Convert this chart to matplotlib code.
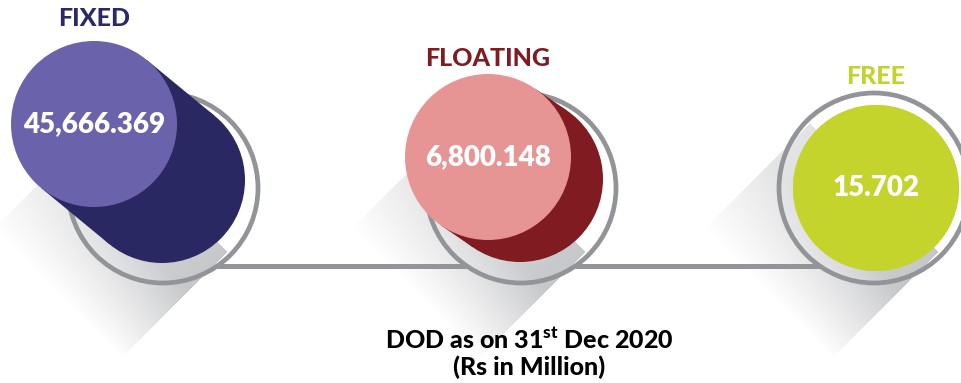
import numpy as np
import matplotlib.pyplot as plt
from matplotlib.patches import Circle, Polygon

plt.rcParams['font.family'] = ['Lato', 'DejaVu Sans']
plt.rcParams['mathtext.fontset'] = 'custom'
plt.rcParams['mathtext.rm'] = 'Lato'
plt.rcParams['mathtext.bf'] = 'Lato:black'

# debt outstanding by interest type
categories = ["FIXED", "FLOATING", "FREE"]
values = [45666.369, 6800.148, 15.702]
title_colors = ["#2b2966", "#7e1c22", "#c3d32d"]
light_colors = ["#6a63ac", "#e79495", "#c5d42c"]
dark_colors = ["#2a2863", "#801c21", "#c5d42c"]
caption = "DOD as on 31$^{\\mathbf{st}}$ Dec 2020\n(Rs in Million)"

# layout in pixels
W, H = 962, 383
ring_x = [163, 521, 874]
ring_y = 188
ring_r = 95
disc_r = 83
light_shift = [(-69, -64), (-33, -31), (2, 0)]
dark_shift = [(-1, -8), (-1, -9), (2, 0)]
label_y = [18, 58, 77]
line_y = 266
gray = "#939498"

fig = plt.figure(figsize=(W / 100, H / 100), dpi=100)
ax = fig.add_axes([0, 0, 1, 1])
ax.set_xlim(0, W)
ax.set_ylim(H, 0)
ax.axis('off')

# long diagonal shadow behind each ring
yy, xx = np.mgrid[0:H, 0:W] + 0.5
shade = np.zeros((H, W))
for cx in ring_x:
    px, py = xx - cx, yy - ring_y
    t = (py - px) / np.sqrt(2)      # distance toward lower-left
    s = (px + py) / np.sqrt(2)      # across the band
    band = (np.abs(s) <= ring_r - 4) & (t >= 0)
    fade = np.clip(1 - (t - 55) / 95, 0, 1)
    tilt = 0.45 + 0.55 * (s / ring_r + 1) / 2
    shade = np.maximum(shade, np.where(band, fade * tilt, 0))
rgba = np.zeros((H, W, 4))
rgba[..., :3] = [0.55, 0.56, 0.58]
rgba[..., 3] = 0.5 * shade
ax.imshow(rgba, extent=(0, W, H, 0), zorder=2, interpolation='bilinear', aspect='auto')

# connector between rings
dx = np.sqrt(ring_r ** 2 - (line_y - ring_y) ** 2)
for a, b in zip(ring_x[:-1], ring_x[1:]):
    ax.plot([a + dx, b - dx], [line_y, line_y], color=gray, lw=3.6,
            solid_capstyle='butt', zorder=3)

for i, (cat, val) in enumerate(zip(categories, values)):
    cx = ring_x[i]
    ax.add_patch(Circle((cx, ring_y), ring_r, fill=False, ec=gray, lw=3.4, zorder=4))
    lx, ly = cx + light_shift[i][0], ring_y + light_shift[i][1]
    dcx, dcy = cx + dark_shift[i][0], ring_y + dark_shift[i][1]
    # dark capsule from the light disc to its resting place
    ax.add_patch(Circle((dcx, dcy), disc_r, fc=dark_colors[i], ec='none', zorder=5))
    v = np.array([dcx - lx, dcy - ly])
    if np.hypot(*v) > 0:
        n = np.array([-v[1], v[0]]) / np.hypot(*v) * disc_r
        pts = [(lx + n[0], ly + n[1]), (dcx + n[0], dcy + n[1]),
               (dcx - n[0], dcy - n[1]), (lx - n[0], ly - n[1])]
        ax.add_patch(Polygon(pts, closed=True, fc=dark_colors[i], ec='none', zorder=5))
    ax.add_patch(Circle((lx, ly), disc_r, fc=light_colors[i], ec='none', zorder=6))
    ax.text(lx, ly, f"{val:,.3f}", color='white', fontsize=20, fontweight='heavy',
            ha='center', va='center', zorder=7)
    ax.text(lx, label_y[i], cat, color=title_colors[i], fontsize=18, fontweight='black',
            ha='center', va='center', zorder=7)

ax.text(529, 353, caption, color='black', fontsize=18, fontweight='black',
        ha='center', va='center', linespacing=1.1, zorder=7)

fig.savefig("out.png", dpi=100)
